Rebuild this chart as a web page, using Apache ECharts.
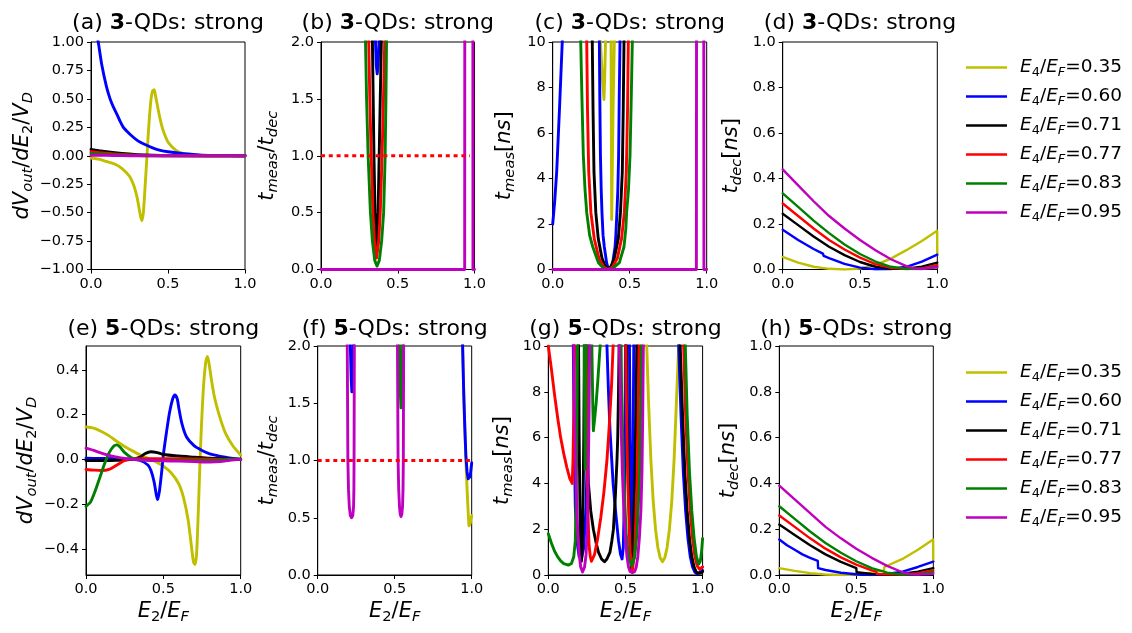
<!DOCTYPE html>
<html><head><meta charset="utf-8">
<script src="https://cdn.jsdelivr.net/npm/echarts@6/dist/echarts.min.js"></script>
<style>html,body{margin:0;padding:0;background:#fff}#c{width:1132px;height:633px}</style>
</head><body><div id="c"></div>
<script>
// ---------------- DATA ----------------
const ratioLabels = ['0.35', '0.60', '0.71', '0.77', '0.83', '0.95'];
const xTicks = [0, 0.5, 1];
const yTicksA = [-1, -0.75, -0.5, -0.25, 0, 0.25, 0.5, 0.75, 1];
const yTicksB = [0, 0.5, 1, 1.5, 2];
const yTicksC = [0, 2, 4, 6, 8, 10];
const yTicksD = [0, 0.2, 0.4, 0.6, 0.8, 1];
const yTicksE = [-0.4, -0.2, 0, 0.2, 0.4];

// (a) dVout/dE2/VD, 3 QDs
const a035 = [[0,-0.02],[0.05,-0.03],[0.1,-0.05],[0.15,-0.07],[0.2,-0.11],[0.25,-0.18],[0.28,-0.27],[0.3,-0.37],[0.32,-0.52],[0.33,-0.57],[0.34,-0.5],[0.35,-0.3],[0.36,-0.08],[0.37,0.15],[0.38,0.35],[0.39,0.5],[0.4,0.57],[0.41,0.58],[0.42,0.52],[0.44,0.38],[0.46,0.26],[0.48,0.18],[0.5,0.12],[0.55,0.05],[0.6,0.02],[0.7,0.005],[0.8,0],[1,0]];
const a060 = [[0,1.4],[0.02,1.2],[0.047,1.0],[0.07,0.8],[0.1,0.61],[0.124,0.5],[0.145,0.43],[0.17,0.36],[0.19,0.3],[0.21,0.25],[0.23,0.22],[0.26,0.18],[0.3,0.135],[0.34,0.105],[0.4,0.07],[0.45,0.048],[0.5,0.035],[0.6,0.018],[0.7,0.008],[0.8,0.003],[0.9,0.001],[1,0]];
const a071 = [[0,0.055],[0.05,0.045],[0.1,0.035],[0.2,0.02],[0.3,0.01],[0.4,0.004],[0.5,0.001],[1,0]];
const a077 = [[0,0.035],[0.1,0.022],[0.2,0.012],[0.3,0.005],[0.4,0.002],[0.5,0],[1,0]];
const a083 = [[0,0.02],[0.1,0.012],[0.2,0.006],[0.3,0.002],[0.4,0],[1,0]];
const a095 = [[0,0.005],[0.1,0.003],[0.2,0.001],[0.3,0],[1,0]];

// (b) tmeas/tdec, 3 QDs
const b035 = [];
const b060 = [[0.35,2.3],[0.355,2.0],[0.36,1.8],[0.366,1.72],[0.372,1.8],[0.378,2.0],[0.381,2.3]];
const b071 = [[0.333,2.5],[0.335,2.0],[0.34,1.5],[0.345,1.0],[0.352,0.5],[0.362,0.2],[0.372,0.5],[0.379,1.0],[0.386,1.5],[0.393,2.0],[0.395,2.5]];
const b077 = [[0.308,2.5],[0.311,2.0],[0.318,1.5],[0.327,1.0],[0.338,0.5],[0.348,0.25],[0.362,0.1],[0.376,0.25],[0.386,0.5],[0.398,1.0],[0.407,1.5],[0.415,2.0],[0.418,2.5]];
const b083 = [[0.285,2.5],[0.29,2.0],[0.297,1.5],[0.307,1.0],[0.322,0.5],[0.335,0.25],[0.35,0.08],[0.365,0.03],[0.38,0.08],[0.395,0.25],[0.408,0.5],[0.418,1.0],[0.423,1.5],[0.427,2.0],[0.43,2.5]];
const b095 = [[0,0],[0.936,0],[0.937,3],[0.989,3],[0.99,0],[1,0]];
const bRef = [[0,1],[0.97,1]];

// (c) tmeas [ns], 3 QDs
const c035 = [[0.305,11],[0.31,10],[0.322,8.5],[0.333,7.47],[0.338,8.5],[0.343,10],[0.347,11],[0.376,11],[0.379,10],[0.381,6],[0.383,2.2],[0.386,4],[0.392,7],[0.4,10],[0.405,11]];
const c060 = [[0,2.0],[0.013,3.0],[0.026,4.3],[0.045,7.2],[0.062,10],[0.07,11.5],[0.3,11.5],[0.303,10],[0.306,7.5],[0.31,5],[0.315,3.5],[0.32,2.5],[0.327,1.5],[0.335,1],[0.35,0.3],[0.36,0.05],[0.368,0],[0.376,0.05],[0.39,0.3],[0.405,1],[0.41,1.5],[0.417,2.5],[0.423,3.5],[0.428,5],[0.432,7.5],[0.437,10],[0.44,11]];
const c071 = [[0.255,11],[0.257,10],[0.262,7],[0.268,4.3],[0.28,2.5],[0.296,1.35],[0.32,0.5],[0.34,0.15],[0.36,0],[0.38,0.15],[0.4,0.5],[0.426,1.35],[0.44,2.5],[0.452,4.3],[0.458,7],[0.463,10],[0.465,11]];
const c077 = [[0.218,11],[0.221,10],[0.226,7],[0.234,4.3],[0.248,2.5],[0.27,1.35],[0.3,0.5],[0.33,0.12],[0.36,0],[0.39,0.12],[0.42,0.5],[0.447,1.35],[0.465,2.5],[0.478,4.3],[0.486,7],[0.491,10],[0.494,11]];
const c083 = [[0.178,11],[0.182,10],[0.19,7.5],[0.199,5],[0.21,3.5],[0.221,2.5],[0.24,1.5],[0.26,1],[0.297,0.3],[0.33,0.05],[0.36,0],[0.39,0.05],[0.433,0.3],[0.463,1],[0.475,1.8],[0.48,2.5],[0.492,3.5],[0.502,5],[0.51,7.5],[0.517,10],[0.52,11]];
const c095 = [[0,0],[0.933,0],[0.934,11],[0.981,11],[0.982,0],[1,0]];

// (d) tdec [ns], 3 QDs
const d035 = [[0,0.055],[0.1,0.03],[0.2,0.012],[0.3,0.003],[0.4,0.0],[0.5,0.004],[0.6,0.02],[0.7,0.048],[0.8,0.085],[0.9,0.125],[0.999,0.17],[1,0.065]];
const d060 = [[0,0.175],[0.1,0.13],[0.2,0.09],[0.26,0.07],[0.265,0.06],[0.3,0.05],[0.4,0.025],[0.5,0.008],[0.6,0.001],[0.7,0.002],[0.8,0.012],[0.9,0.035],[1,0.065]];
const d071 = [[0,0.245],[0.1,0.195],[0.2,0.145],[0.3,0.1],[0.4,0.063],[0.5,0.033],[0.6,0.012],[0.7,0.003],[0.8,0.004],[0.9,0.012],[1,0.03]];
const d077 = [[0,0.29],[0.1,0.235],[0.2,0.18],[0.3,0.13],[0.4,0.088],[0.5,0.052],[0.6,0.024],[0.7,0.007],[0.8,0.002],[0.9,0.005],[1,0.02]];
const d083 = [[0,0.335],[0.1,0.275],[0.2,0.215],[0.3,0.16],[0.4,0.11],[0.5,0.068],[0.6,0.035],[0.7,0.012],[0.8,0.003],[0.9,0.002],[1,0.012]];
const d095 = [[0,0.44],[0.1,0.37],[0.2,0.3],[0.3,0.235],[0.4,0.18],[0.5,0.13],[0.6,0.085],[0.7,0.045],[0.8,0.015],[0.85,0.005],[0.9,0.003],[1,0.01]];

// (e) dVout/dE2/VD, 5 QDs
const e035 = [[0,0.145],[0.05,0.14],[0.1,0.125],[0.15,0.105],[0.2,0.08],[0.25,0.058],[0.3,0.038],[0.35,0.02],[0.4,0.005],[0.45,-0.01],[0.5,-0.03],[0.55,-0.06],[0.6,-0.11],[0.63,-0.17],[0.66,-0.27],[0.68,-0.38],[0.695,-0.46],[0.705,-0.47],[0.715,-0.42],[0.725,-0.25],[0.735,-0.05],[0.745,0.13],[0.76,0.33],[0.775,0.44],[0.785,0.46],[0.795,0.43],[0.81,0.36],[0.83,0.28],[0.86,0.2],[0.9,0.12],[0.95,0.06],[1,0.02]];
const e060 = [[0,0.005],[0.1,0.004],[0.2,0.003],[0.3,0.0],[0.35,-0.005],[0.4,-0.025],[0.42,-0.05],[0.44,-0.1],[0.455,-0.16],[0.463,-0.18],[0.475,-0.14],[0.49,-0.05],[0.5,0.02],[0.52,0.12],[0.54,0.21],[0.56,0.27],[0.575,0.288],[0.59,0.27],[0.6,0.23],[0.62,0.16],[0.65,0.1],[0.7,0.06],[0.75,0.04],[0.8,0.025],[0.9,0.01],[1,0.0]];
const e071 = [[0,-0.005],[0.1,-0.005],[0.2,-0.004],[0.3,0.0],[0.35,0.01],[0.38,0.025],[0.42,0.034],[0.46,0.03],[0.5,0.022],[0.6,0.015],[0.7,0.01],[0.8,0.005],[0.9,0.003],[1,0.0]];
const e077 = [[0,-0.045],[0.05,-0.048],[0.1,-0.05],[0.15,-0.045],[0.2,-0.025],[0.25,-0.005],[0.3,0.003],[0.4,0.003],[0.5,0.003],[0.7,0.002],[1,0]];
const e083 = [[0,-0.21],[0.03,-0.19],[0.06,-0.14],[0.09,-0.08],[0.12,-0.02],[0.15,0.03],[0.18,0.06],[0.2,0.065],[0.22,0.055],[0.25,0.03],[0.3,0.005],[0.35,-0.002],[0.5,-0.005],[0.7,-0.005],[0.85,-0.005],[0.9,0.0],[1,0.002]];
const e095 = [[0,0.05],[0.05,0.04],[0.1,0.028],[0.15,0.018],[0.2,0.01],[0.25,0.004],[0.3,0.0],[0.4,-0.004],[0.5,-0.006],[0.6,-0.008],[0.7,-0.01],[0.8,-0.012],[0.87,-0.01],[0.93,-0.004],[1,0.0]];

// (f) tmeas/tdec, 5 QDs
const f035 = [[0.938,2.3],[0.941,2.0],[0.948,1.6],[0.955,1.3],[0.962,1.0],[0.97,0.75],[0.977,0.55],[0.982,0.43],[0.99,0.45],[1.0,0.52]];
const f060 = [[0.208,2.3],[0.212,2],[0.218,1.7],[0.222,1.6],[0.226,1.7],[0.232,2],[0.235,2.3],[0.938,2.3],[0.941,2.0],[0.948,1.6],[0.955,1.3],[0.962,1.05],[0.97,0.9],[0.977,0.84],[0.983,0.83],[0.99,0.86],[1.0,0.98]];
const f071 = [];
const f077 = [];
const f083 = [[0.528,2.3],[0.531,2],[0.536,1.6],[0.541,1.46],[0.546,1.6],[0.551,2],[0.554,2.3]];
const f095 = [[0.191,2.3],[0.192,2.0],[0.194,1.5],[0.196,1.0],[0.2,0.75],[0.205,0.6],[0.212,0.52],[0.22,0.5],[0.228,0.52],[0.233,0.6],[0.235,0.75],[0.236,1.0],[0.237,1.5],[0.238,2.0],[0.239,2.3],[0.517,2.3],[0.518,2.0],[0.52,1.5],[0.522,1.0],[0.526,0.75],[0.531,0.6],[0.536,0.53],[0.541,0.51],[0.546,0.53],[0.551,0.6],[0.554,0.75],[0.556,1.0],[0.557,1.5],[0.558,2.0],[0.559,2.3]];
const fRef = [[0,1],[0.99,1]];

// (g) tmeas [ns], 5 QDs
const g035 = [[0.632,11],[0.638,10],[0.65,7.5],[0.665,5],[0.68,3.2],[0.695,2],[0.71,1.2],[0.725,0.75],[0.74,0.58],[0.755,0.75],[0.77,1.2],[0.785,2],[0.8,3.2],[0.815,5],[0.83,7.5],[0.845,10],[0.85,11]];
const g060 = [[0.158,11],[0.162,10],[0.168,6],[0.175,3],[0.185,1.5],[0.2,0.8],[0.215,0.7],[0.23,1.2],[0.245,3],[0.255,6],[0.262,10],[0.265,11],[0.375,11],[0.38,10],[0.39,8],[0.4,6.3],[0.42,4],[0.44,2.5],[0.455,1.5],[0.468,0.9],[0.478,0.7],[0.486,1.2],[0.492,3],[0.497,6],[0.5,10],[0.502,11],[0.525,11],[0.53,6],[0.536,2.5],[0.54,1.1],[0.545,2.5],[0.55,6],[0.555,11],[0.84,11],[0.845,10],[0.86,7],[0.875,4.5],[0.89,2.8],[0.905,1.6],[0.92,0.8],[0.935,0.35],[0.95,0.12],[0.965,0.05],[0.98,0.1],[0.99,0.15],[1,0.2]];
const g071 = [[0.195,11],[0.2,6],[0.205,3],[0.21,1.2],[0.215,0.6],[0.22,1.2],[0.225,3],[0.23,6],[0.235,11],[0.242,11],[0.245,10],[0.249,6],[0.26,4],[0.275,2.8],[0.292,2],[0.31,1.4],[0.325,1],[0.345,0.7],[0.364,0.58],[0.38,0.7],[0.4,1],[0.412,1.5],[0.422,2],[0.435,3.5],[0.445,5],[0.45,6],[0.455,8],[0.459,10],[0.462,11],[0.505,11],[0.51,8],[0.52,4],[0.53,1.5],[0.54,0.15],[0.55,1.5],[0.56,4],[0.57,8],[0.575,11],[0.85,11],[0.855,10],[0.87,7],[0.885,4.5],[0.9,2.8],[0.915,1.6],[0.93,0.8],[0.945,0.35],[0.96,0.12],[0.975,0.08],[0.99,0.1],[1,0.15]];
const g077 = [[0,10],[0.02,9.0],[0.04,7.9],[0.06,6.9],[0.08,6.0],[0.1,5.3],[0.12,4.7],[0.14,4.2],[0.155,4.0],[0.16,5],[0.165,7],[0.17,9.5],[0.172,11],[0.243,11],[0.246,10],[0.25,7],[0.254,4],[0.258,2.5],[0.264,1.3],[0.272,0.8],[0.28,0.6],[0.29,0.65],[0.3,0.9],[0.32,1.6],[0.34,2.5],[0.36,3.6],[0.38,5],[0.395,6.5],[0.41,8.3],[0.42,10],[0.425,11],[0.5,11],[0.505,8],[0.515,4],[0.53,1],[0.545,0.2],[0.56,1],[0.575,4],[0.585,8],[0.59,11],[0.87,11],[0.877,10],[0.89,7],[0.905,4.5],[0.92,2.8],[0.935,1.6],[0.95,0.8],[0.965,0.4],[0.98,0.25],[0.99,0.28],[1,0.35]];
const g083 = [[0,1.8],[0.02,1.4],[0.04,1.05],[0.06,0.8],[0.08,0.62],[0.1,0.5],[0.13,0.43],[0.15,0.5],[0.165,0.8],[0.175,1.5],[0.18,3],[0.185,6],[0.19,11],[0.232,11],[0.236,7],[0.239,4.6],[0.242,7],[0.246,11],[0.28,11],[0.288,7.5],[0.292,6.3],[0.3,6.8],[0.31,7.5],[0.32,8.4],[0.33,9.4],[0.336,10],[0.34,11],[0.47,11],[0.475,8],[0.49,4],[0.505,1.8],[0.52,0.8],[0.54,0.4],[0.56,0.8],[0.575,1.8],[0.59,4],[0.6,8],[0.605,11],[0.882,11],[0.888,10],[0.9,7],[0.915,4.5],[0.93,2.8],[0.945,1.6],[0.96,0.8],[0.975,0.48],[0.985,0.6],[0.993,1.0],[1,1.6]];
const g095 = [[0.16,11],[0.165,10],[0.17,7],[0.18,4],[0.19,2],[0.2,0.9],[0.21,0.35],[0.222,0.13],[0.235,0.35],[0.245,0.9],[0.252,2],[0.258,4],[0.264,7],[0.268,10],[0.272,11],[0.455,11],[0.46,10],[0.47,7],[0.48,4.5],[0.49,2.8],[0.5,1.6],[0.51,0.8],[0.52,0.35],[0.53,0.15],[0.545,0.1],[0.56,0.15],[0.57,0.35],[0.58,0.8],[0.59,1.6],[0.6,2.8],[0.607,4.5],[0.612,7],[0.616,10],[0.62,11]];

// (h) tdec [ns], 5 QDs
const h035 = [[0,0.03],[0.1,0.018],[0.2,0.008],[0.3,0.002],[0.4,0.0],[0.5,0.002],[0.6,0.01],[0.68,0.02],[0.682,0.035],[0.8,0.07],[0.9,0.11],[0.999,0.155],[1,0.06]];
const h060 = [[0,0.155],[0.05,0.13],[0.1,0.11],[0.15,0.09],[0.2,0.075],[0.25,0.062],[0.252,0.03],[0.3,0.022],[0.4,0.01],[0.5,0.003],[0.6,0.0],[0.7,0.005],[0.8,0.015],[0.9,0.035],[1,0.058]];
const h071 = [[0,0.22],[0.1,0.175],[0.2,0.13],[0.3,0.09],[0.4,0.057],[0.5,0.03],[0.502,0.012],[0.6,0.005],[0.7,0.003],[0.8,0.006],[0.9,0.015],[1,0.03]];
const h077 = [[0,0.26],[0.1,0.21],[0.2,0.16],[0.3,0.115],[0.4,0.077],[0.5,0.045],[0.6,0.02],[0.63,0.015],[0.632,0.005],[0.7,0.003],[0.8,0.002],[0.9,0.008],[1,0.02]];
const h083 = [[0,0.3],[0.1,0.245],[0.2,0.19],[0.3,0.14],[0.4,0.097],[0.5,0.06],[0.6,0.03],[0.7,0.01],[0.8,0.002],[0.9,0.003],[1,0.012]];
const h095 = [[0,0.39],[0.1,0.33],[0.2,0.27],[0.3,0.21],[0.4,0.16],[0.5,0.115],[0.6,0.075],[0.7,0.04],[0.8,0.012],[0.85,0.004],[0.9,0.002],[1,0.005]];

// ---------------- BUILD ----------------
const FF = 'DejaVu Sans';
const COLORS = ['#bfbf00', '#0000ff', '#000000', '#ff0000', '#008000', '#bf00bf'];
const seriesNames = ratioLabels.map(r => 'E4/EF=' + r);

function mathRich(F, spW) {
  const L = Math.round(F * 1.25);
  return {
    i: {fontFamily: FF, fontStyle: 'italic', fontSize: F, lineHeight: L, color: '#000'},
    n: {fontFamily: FF, fontSize: F, lineHeight: L, color: '#000'},
    s: {fontFamily: FF, fontStyle: 'italic', fontSize: F * 0.7, lineHeight: F * 0.6, verticalAlign: 'bottom', color: '#000'},
    d: {fontFamily: FF, fontSize: F * 0.7, lineHeight: F * 0.6, verticalAlign: 'bottom', color: '#000'},
    sp: {width: spW || 0}
  };
}

const NAME_DV = '{i|dV}{s|out}{n|/}{i|dE}{d|2}{n|/}{i|V}{s|D}';
const NAME_RATIO = '{i|t}{s|meas}{n|/}{i|t}{s|dec}';
const NAME_TMEAS = '{i|t}{s|meas}{n|[}{i|ns}{n|]}';
const NAME_TDEC = '{i|t}{s|dec}{n|[}{i|ns}{n|]}';
const NAME_X = '{i|E}{d|2}{n|/}{i|E}{s|F}';

const panels = [
  {tag: 'a', n: 3, grid: {left: 91, top: 42, width: 154, height: 227.5}, ymin: -1, ymax: 1, ticks: yTicksA, dec: 2, yname: NAME_DV, gap: 38, smooth: 0.25, data: [a035, a060, a071, a077, a083, a095]},
  {tag: 'b', n: 3, grid: {left: 321, top: 42, width: 153.5, height: 227.5}, ymin: 0, ymax: 2, ticks: yTicksB, dec: 1, yname: NAME_RATIO, gap: 40, smooth: 0, data: [b035, b060, b071, b077, b083, b095], ref: bRef},
  {tag: 'c', n: 3, grid: {left: 552.7, top: 42, width: 154, height: 227.5}, ymin: 0, ymax: 10, ticks: yTicksC, dec: 0, yname: NAME_TMEAS, gap: 35, smooth: 0, data: [c035, c060, c071, c077, c083, c095]},
  {tag: 'd', n: 3, grid: {left: 782.7, top: 42, width: 154.6, height: 227.5}, ymin: 0, ymax: 1, ticks: yTicksD, dec: 1, yname: NAME_TDEC, gap: 38, smooth: 0, data: [d035, d060, d071, d077, d083, d095], thin: true},
  {tag: 'e', n: 5, grid: {left: 86, top: 346, width: 154.7, height: 229}, ymin: -0.517, ymax: 0.507, ticks: yTicksE, dec: 1, yname: NAME_DV, gap: 36, smooth: 0.25, data: [e035, e060, e071, e077, e083, e095]},
  {tag: 'f', n: 5, grid: {left: 317.7, top: 346, width: 154, height: 229}, ymin: 0, ymax: 2, ticks: yTicksB, dec: 1, yname: NAME_RATIO, gap: 37, smooth: 0, data: [f035, f060, f071, f077, f083, f095], ref: fRef},
  {tag: 'g', n: 5, grid: {left: 548.3, top: 346, width: 154.3, height: 229}, ymin: 0, ymax: 10, ticks: yTicksC, dec: 0, yname: NAME_TMEAS, gap: 33, smooth: 0, data: [g035, g060, g071, g077, g083, g095]},
  {tag: 'h', n: 5, grid: {left: 779.3, top: 346, width: 154, height: 229}, ymin: 0, ymax: 1, ticks: yTicksD, dec: 1, yname: NAME_TDEC, gap: 38, smooth: 0, data: [h035, h060, h071, h077, h083, h095], thin: true}
];

const tickFont = {fontFamily: FF, fontSize: 14.5, color: '#000'};
function fmt(v, dec) { return Number(v).toFixed(dec).replace('-', '\u2212'); }

const grids = [], xAxes = [], yAxes = [], titles = [], series = [];
panels.forEach((p, k) => {
  grids.push(Object.assign({show: true, borderColor: '#000', borderWidth: 1, backgroundColor: 'transparent', containLabel: false, outerBoundsMode: 'none'}, p.grid));
  const bottomRow = k >= 4;
  xAxes.push({
    type: 'value', gridIndex: k, min: 0, max: 1, interval: 0.5,
    axisLine: {show: true, onZero: false, lineStyle: {color: '#000', width: 1}},
    axisTick: {show: true, length: 4, lineStyle: {color: '#000'}, customValues: xTicks},
    axisLabel: {show: true, margin: 7, customValues: xTicks, formatter: v => fmt(v, 1), ...tickFont},
    splitLine: {show: false},
    name: bottomRow ? NAME_X : '', nameLocation: 'middle', nameGap: 24,
    nameTextStyle: {rich: mathRich(21)}
  });
  const yax = {
    type: 'value', gridIndex: k, min: p.ymin, max: p.ymax,
    axisLine: {show: true, onZero: false, lineStyle: {color: '#000', width: 1}},
    axisTick: {show: true, length: 4, lineStyle: {color: '#000'}, customValues: p.ticks},
    axisLabel: {show: true, margin: 7, customValues: p.ticks, formatter: v => fmt(v, p.dec), ...tickFont},
    splitLine: {show: false},
    name: p.yname, nameLocation: 'middle', nameRotate: 90, nameGap: p.gap,
    nameTextStyle: {rich: mathRich(21)}
  };
  if (k !== 4) yax.interval = p.ticks[1] - p.ticks[0];
  yAxes.push(yax);
  const cx = p.grid.left + p.grid.width / 2 - 5;
  titles.push({
    text: '(' + p.tag + ') {b|' + p.n + '}-QDs: strong',
    left: cx, top: bottomRow ? 311 : 5, textAlign: 'center',
    textStyle: {fontFamily: FF, fontSize: 22, fontWeight: 'normal', color: '#000', lineHeight: 26,
      rich: {b: {fontFamily: FF, fontSize: 22, fontWeight: 'bold', color: '#000', lineHeight: 26}}}
  });
  p.data.forEach((arr, c) => {
    series.push({
      type: 'line', name: seriesNames[c], xAxisIndex: k, yAxisIndex: k, data: arr,
      symbol: 'none', showSymbol: false, clip: true, animation: false, silent: true,
      smooth: p.smooth,
      lineStyle: {color: COLORS[c], width: p.thin ? 2.4 : 2.9, cap: 'round', join: 'round'},
      itemStyle: {color: COLORS[c]}
    });
  });
  if (p.ref) {
    series.push({
      type: 'line', name: 'ref', xAxisIndex: k, yAxisIndex: k, data: p.ref,
      symbol: 'none', showSymbol: false, animation: false, silent: true, z: 3,
      lineStyle: {color: '#ff0000', width: 3, type: [4, 3.8]}
    });
  }
});

const legRich = mathRich(18.5, 8);
const legends = [53, 358].map(top => ({
  orient: 'vertical', left: 961, top: top, itemWidth: 41, itemHeight: 14, itemGap: 8,
  data: seriesNames.map(n => ({name: n, icon: 'path://M0,0L41,0L41,2.5L0,2.5Z'})),
  selectedMode: false,
  formatter: n => '{sp|}{i|E}{d|4}{n|/}{i|E}{s|F}{n|=' + n.split('=')[1] + '}',
  textStyle: {rich: legRich, fontFamily: FF, fontSize: 18.5, color: '#000'}
}));

const chart = echarts.init(document.getElementById('c'), null, {renderer: 'canvas'});
chart.setOption({
  backgroundColor: '#fff', animation: false,
  title: titles, grid: grids, xAxis: xAxes, yAxis: yAxes, legend: legends, series: series
});
</script></body></html>
